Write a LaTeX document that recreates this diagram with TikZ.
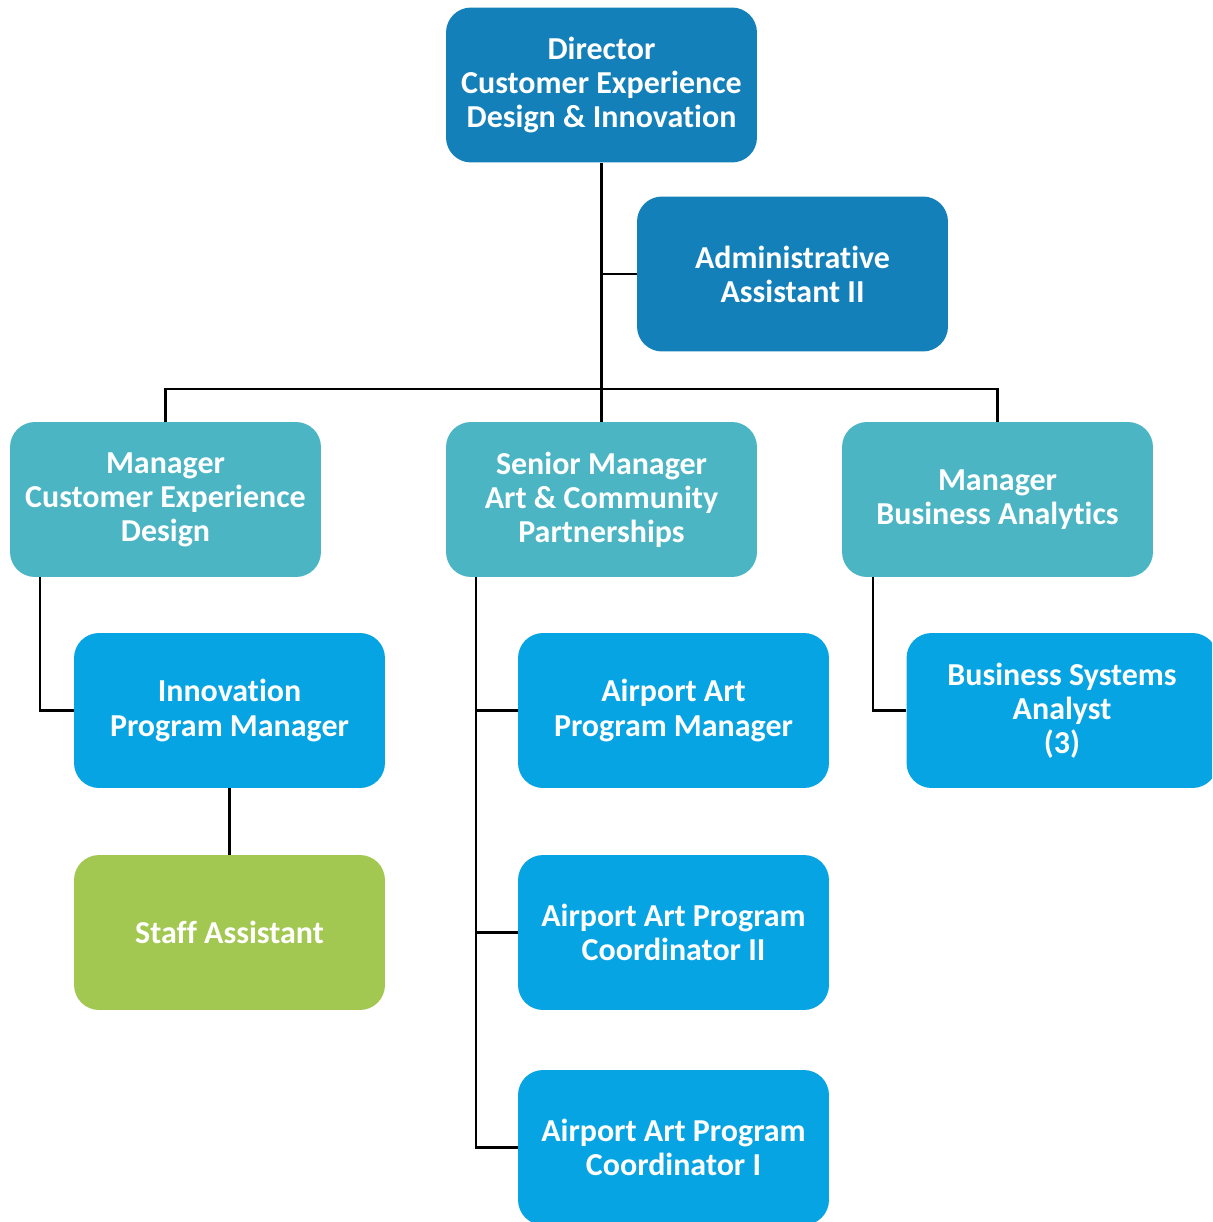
\documentclass[tikz,border=0pt]{standalone}
\usepackage{fontspec}
\setmainfont[Ligatures=CommonOff]{Carlito}
\usetikzlibrary{calc}
\definecolor{cdark}{HTML}{1380B9}
\definecolor{cteal}{HTML}{4BB5C4}
\definecolor{cblue}{HTML}{07A4E3}
\definecolor{cgreen}{HTML}{A3C852}
\tikzset{
  orgbox/.style={rectangle, rounded corners=0.5cm, draw=none, text=white,
    minimum width=6.22cm, minimum height=3.1cm, align=center, inner sep=0pt,
    font=\fontsize{18.2}{19.4}\selectfont\bfseries},
  darkbox/.style={orgbox, fill=cdark},
  tealbox/.style={orgbox, fill=cteal},
  bluebox/.style={orgbox, fill=cblue},
  greenbox/.style={orgbox, fill=cgreen},
  link/.style={draw=black, line width=1.2pt}
}
\begin{document}
\begin{tikzpicture}[x=0.02cm, y=-0.02cm]
\useasboundingbox (0,0) rectangle (1212,1222);
\clip (0,0) rectangle (1212,1222);
\node[darkbox] (dir) at (601.5,85) {Director\\Customer Experience\\Design \& Innovation};
\node[darkbox] (admin) at (792.5,274) {Administrative\\Assistant II};
\node[tealbox] (mcxd) at (165.5,499.5) {Manager\\Customer Experience\\Design};
\node[tealbox] (sm) at (601.5,499.5) {Senior Manager\\Art \& Community\\Partnerships};
\node[tealbox] (mba) at (997.5,499.5) {Manager\\Business Analytics};
\node[bluebox] (ipm) at (229.5,710.5) {Innovation\\Program Manager};
\node[greenbox] (sa) at (229.5,932.5) {Staff Assistant};
\node[bluebox] (aapm) at (673.5,710.5) {Airport Art\\Program Manager};
\node[bluebox] (c2) at (673.5,932.5) {Airport Art Program\\Coordinator II};
\node[bluebox] (c1) at (673.5,1147.5) {Airport Art Program\\Coordinator I};
\node[bluebox] (bsa) at (1062,710.5) {Business Systems\\Analyst\\(3)};
\coordinate (bar) at (601.5,389);
\coordinate (mcxdl) at ($(mcxd.south west)+(30,0)$);
\coordinate (sml) at ($(sm.south west)+(30,0)$);
\coordinate (mbal) at ($(mba.south west)+(31,0)$);
\draw[link] (dir.south) -- (sm.north);
\draw[link] (admin.west) -- (admin.west -| dir.south);
\draw[link] (mcxd.north) |- (bar) -| (mba.north);
\draw[link] (mcxdl) |- (ipm.west);
\draw[link] (ipm.south) -- (sa.north);
\draw[link] (sml) |- (c1.west);
\draw[link] (aapm.west) -- (aapm.west -| sml);
\draw[link] (c2.west) -- (c2.west -| sml);
\draw[link] (mbal) |- (bsa.west);
\end{tikzpicture}
\end{document}
